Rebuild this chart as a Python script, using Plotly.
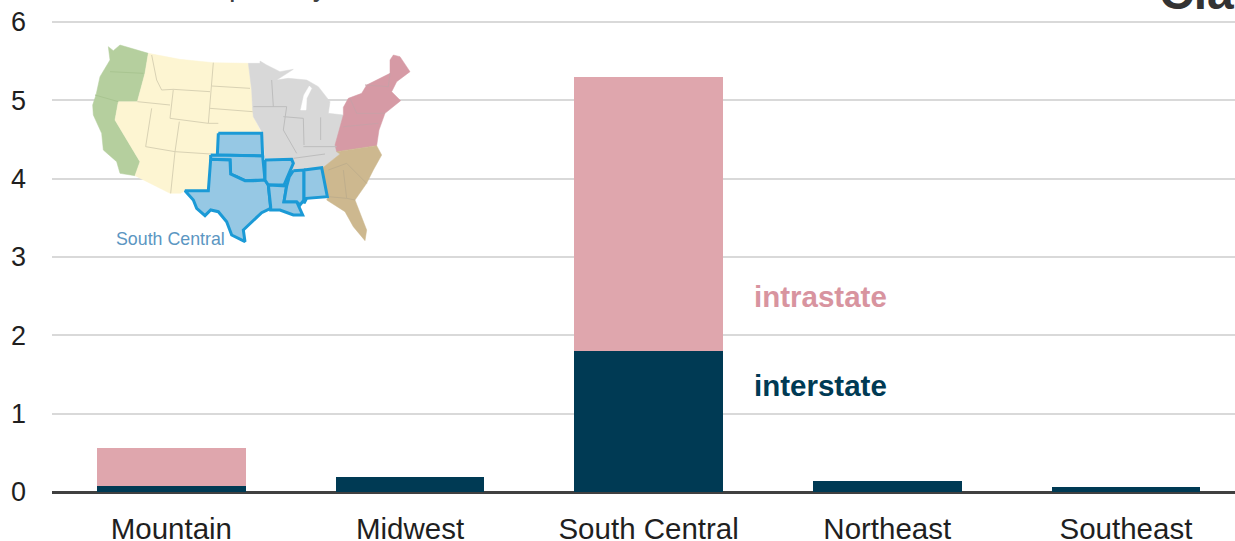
import plotly.graph_objects as go

W, H = 1235, 541

# Chart data
regions = ["Mountain", "Midwest", "South Central", "Northeast", "Southeast"]
interstate = [0.08, 0.19, 1.8, 0.14, 0.06]
intrastate = [0.48, 0, 3.5, 0, 0]
y_ticks = [0, 1, 2, 3, 4, 5, 6]

# Locator map outlines, in the inset's own drawing units
pacific = [(85, 50), (100, 62), (120, 45), (205, 70), (195, 130), (172, 215), (115, 215), (105, 270), (180, 395),
           (165, 437), (120, 430), (110, 395), (70, 360), (65, 310), (40, 255), (38, 225), (48, 195),
           (60, 140), (90, 90)]
mountain = [(205, 70), (300, 88), (400, 98), (505, 100), (515, 180), (518, 240), (520, 260), (545, 310),
            (415, 308), (410, 372), (392, 372), (385, 482), (315, 482), (302, 490), (270, 490), (165, 437),
            (180, 395), (105, 270), (115, 215), (172, 215), (195, 130)]
midwest = [(505, 100), (540, 100), (540, 93), (560, 105), (600, 125), (640, 118), (590, 150), (625, 145),
           (680, 150), (715, 170), (750, 215), (745, 250), (790, 255), (792, 300), (770, 350), (780, 372),
           (735, 408), (725, 414), (672, 420), (640, 422), (630, 440), (640, 400), (635, 385),
           (555, 385), (548, 310), (520, 260), (518, 240), (515, 180)]
lake_michigan = [(688, 168), (672, 195), (662, 240), (678, 240), (680, 205), (695, 175)]
northeast = [(940, 75), (960, 80), (990, 125), (950, 155), (935, 185), (962, 212), (915, 250), (897, 300),
             (890, 347), (770, 365), (765, 345), (790, 255), (790, 232), (805, 205), (845, 190), (860, 165),
             (930, 130), (930, 90)]
southeast = [(890, 347), (905, 375), (880, 420), (860, 460), (825, 510), (840, 550), (860, 600), (855, 632),
             (820, 590), (795, 545), (770, 530), (740, 510), (745, 500), (725, 414), (735, 408), (780, 372),
             (770, 365)]
south_central_states = [
    [(415, 310), (545, 310), (548, 378), (412, 375)],
    [(392, 375), (548, 378), (555, 450), (520, 452), (495, 452), (470, 440), (452, 432), (450, 390), (392, 388)],
    [(392, 388), (450, 390), (452, 432), (470, 440), (495, 452), (520, 452), (555, 450), (565, 465), (570, 510),
     (572, 535), (545, 548), (510, 580), (490, 600), (495, 635), (455, 615), (440, 575), (415, 545), (392, 540),
     (375, 557), (350, 535), (340, 510), (315, 482), (385, 482)],
    [(555, 390), (635, 388), (640, 400), (622, 440), (612, 465), (565, 465), (555, 450)],
    [(565, 465), (620, 468), (612, 515), (650, 515), (668, 555), (640, 555), (600, 540), (572, 540), (572, 530)],
    [(640, 422), (672, 420), (672, 510), (660, 525), (650, 515), (612, 515), (620, 468), (628, 440)],
    [(672, 420), (725, 413), (742, 500), (680, 505), (672, 520)],
]
state_borders = [
    ("#a9c591", [[(90, 125), (190, 130)],
                 [(45, 195), (115, 215)]]),
    ("#d9d2b4", [[(215, 75), (230, 150), (245, 180), (280, 178), (390, 185)],
                 [(400, 98), (395, 168), (390, 235), (385, 280)],
                 [(395, 168), (510, 175)],
                 [(390, 235), (518, 245)],
                 [(280, 178), (270, 265), (385, 280), (415, 280)],
                 [(172, 215), (270, 225)],
                 [(215, 235), (197, 350), (285, 365), (298, 275)],
                 [(285, 365), (272, 490)],
                 [(285, 365), (392, 372)]]),
    ("#bdbdbd", [[(520, 230), (620, 230), (610, 300), (650, 370)],
                 [(575, 150), (580, 230)],
                 [(610, 260), (670, 265), (672, 345)],
                 [(722, 262), (722, 330)],
                 [(670, 350), (770, 350)],
                 [(640, 385), (735, 372)]]),
    ("#c9a0a7", [[(790, 290), (895, 280)],
                 [(810, 205), (830, 250), (915, 250)],
                 [(855, 165), (925, 170), (930, 130)]]),
    ("#bfae8c", [[(745, 420), (800, 400), (860, 460)],
                 [(790, 420), (800, 505), (745, 500)],
                 [(800, 505), (825, 510)]]),
]


def xs(points, close=True):
    return [p[0] for p in points] + ([points[0][0]] if close else [])


def ys(points, close=True):
    return [p[1] for p in points] + ([points[0][1]] if close else [])


def label(text, x, y, size, color):
    return dict(text=text, xref="paper", yref="paper", x=x / W, y=(H - y) / H, xanchor="left", yanchor="middle",
                showarrow=False, font=dict(size=size, color=color))


fig = go.Figure()

fig.add_bar(x=regions, y=interstate, marker=dict(color="#003a54", line_width=0), width=0.622, name="interstate")
fig.add_bar(x=regions, y=intrastate, marker=dict(color="#dfa6ad", line_width=0), width=0.622, name="intrastate")

inset = dict(xaxis="x2", yaxis="y2", mode="lines", hoverinfo="skip", showlegend=False)
for pts, fill in [(pacific, "#b5cf9e"), (mountain, "#fdf5d2"), (midwest, "#d8d8d8"),
                  (lake_michigan, "#ffffff"), (northeast, "#d69aa5"), (southeast, "#cdb88f")]:
    fig.add_scatter(x=xs(pts), y=ys(pts), fill="toself", fillcolor=fill, line=dict(color=fill, width=0.5), **inset)
for color, lines in state_borders:
    for pts in lines:
        fig.add_scatter(x=xs(pts, False), y=ys(pts, False), line=dict(color=color, width=1), **inset)
for pts in south_central_states:
    fig.add_scatter(x=xs(pts), y=ys(pts), fill="toself", fillcolor="#96c8e4",
                    line=dict(color="#1b9ad6", width=3), **inset)

fig.update_layout(
    width=W, height=H, margin=dict(l=0, r=0, t=0, b=0),
    paper_bgcolor="white", plot_bgcolor="rgba(0,0,0,0)",
    barmode="stack", showlegend=False,
    font=dict(family="Liberation Sans, Arial, sans-serif", color="#1f1f1f"),
    xaxis=dict(domain=[52 / W, 1], range=[-0.5, 4.457], type="category", showgrid=False, ticks="",
               tickfont=dict(size=29.5), ticklabelstandoff=16, showline=False, zeroline=False, automargin=False),
    # The range runs slightly past 6 so the top gridline is still drawn
    yaxis=dict(domain=[(H - 492) / H, (H - 20.4) / H], range=[0, 6.02], tickvals=y_ticks, ticks="",
               gridcolor="#d9d9d9", gridwidth=2, zeroline=True, zerolinecolor="#404040", zerolinewidth=2.5,
               tickfont=dict(size=27), ticklabelstandoff=25, automargin=False),
    xaxis2=dict(domain=[80 / W, 430 / W], range=[0, 1050], visible=False, fixedrange=True),
    yaxis2=dict(domain=[(H - 260) / H, (H - 30) / H], range=[690, 0], visible=False, fixedrange=True, anchor="x2"),
    annotations=[
        label("<b>intrastate</b>", 752, 296, 29.5, "#d8949f"),
        label("<b>interstate</b>", 752, 385.5, 29.5, "#003a54"),
        label("South Central", 114, 239, 17.8, "#5b96c2"),
        # Slide title and units line sit mostly above the top edge of the page
        label("billion cubic feet per day", 9, -15, 29.5, "#404040"),
        label("<b>Cla</b>", 1157, -7.5, 48, "#333333"),
    ],
)

fig.write_html("out.html")
